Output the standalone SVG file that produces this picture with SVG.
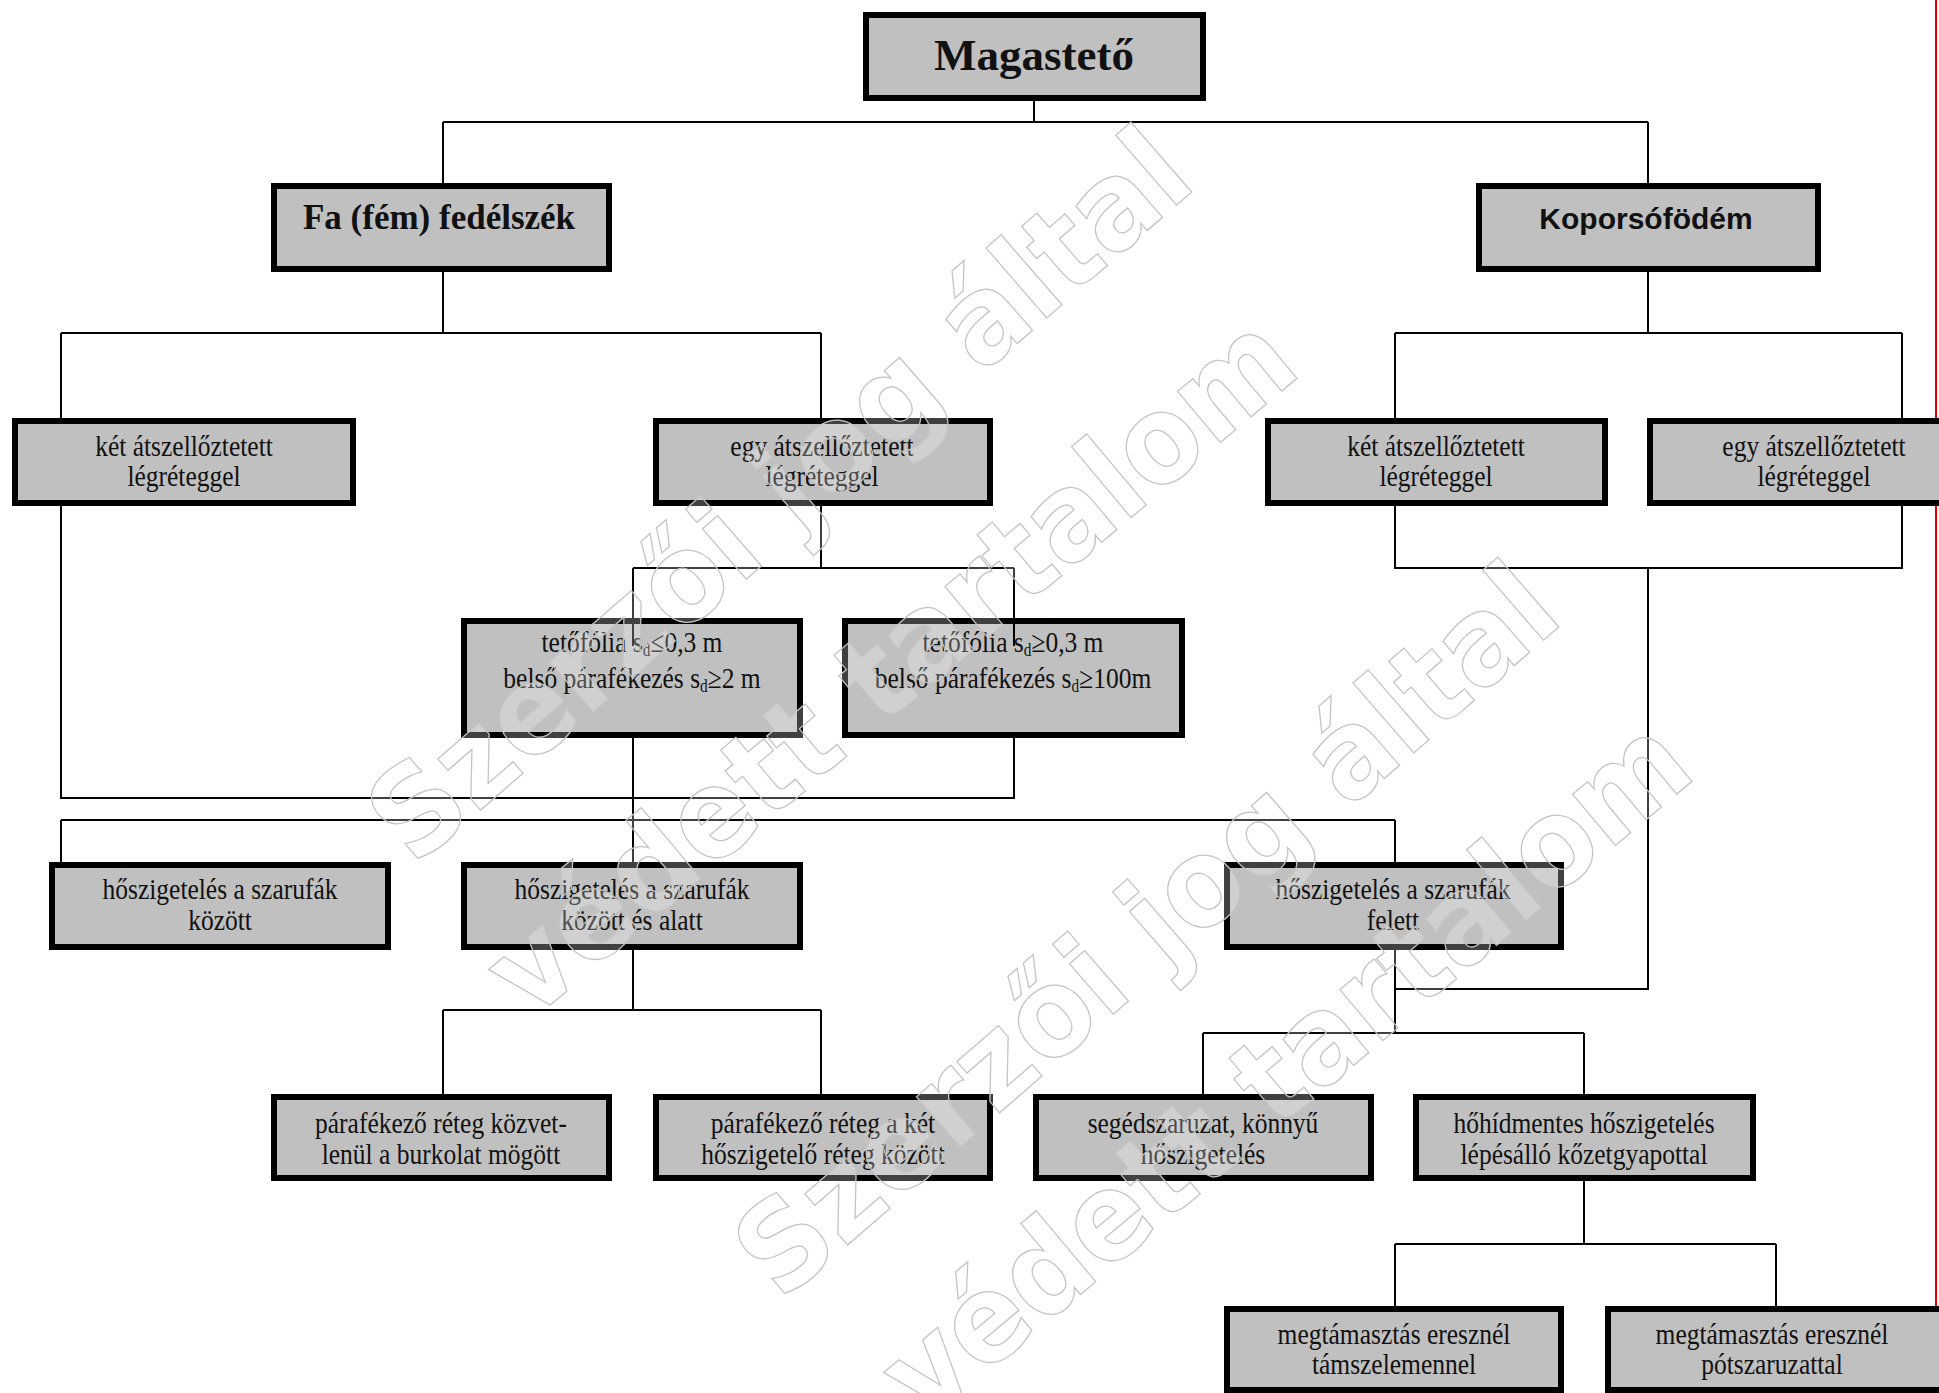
<svg xmlns="http://www.w3.org/2000/svg" width="1939" height="1393" viewBox="0 0 1939 1393">
<style>
.box{fill:#c0c0c0;stroke:#000;stroke-width:6}
.ln{stroke:#000;stroke-width:2;fill:none}
.t{font-family:"Liberation Serif",serif;font-size:30px;text-anchor:middle;fill:#111}
.wm{font-family:"DejaVu Sans",sans-serif;font-weight:bold;font-size:122px;text-anchor:middle;fill:#fff;fill-opacity:0.25;stroke:#c4c4c4;stroke-width:1.3}
</style>
<rect width="1939" height="1393" fill="#fff"/>
<line x1="1936" y1="0" x2="1936" y2="1393" stroke="#e00000" stroke-width="2"/>
<g id="connectors" class="ln">
<path d="M1034 101V122M443 122H1648M443 122V183M1648 122V183"/>
<path d="M443 272V333M61 333H821M61 333V418M821 333V418"/>
<path d="M1648 272V333M1395 333H1902M1395 333V418M1902 333V418"/>
<path d="M61 506V798H1014V738"/>
<path d="M821 506V568M633 568H1014"/>
<path d="M1395 506V568H1902V506M1648 568V989H1395"/>
<path d="M633 738V862M61 820H1395M61 820V862M1395 820V862"/>
<path d="M633 950V1010M443 1010H821M443 1010V1094M821 1010V1094"/>
<path d="M1395 950V1033M1203 1033H1584M1203 1033V1094M1584 1033V1094"/>
<path d="M1584 1181V1244M1395 1244H1776M1395 1244V1306M1776 1244V1306"/>
</g>
<g id="n-magasteto"><rect class="box" x="866" y="15" width="337" height="83"/><text x="1034" y="70" style="font-family:'Liberation Serif',serif;font-weight:bold;font-size:45px;text-anchor:middle;fill:#111">Magastető</text></g>
<g id="n-fa"><rect class="box" x="274" y="186" width="335" height="83"/><text x="439" y="229" style="font-family:'Liberation Serif',serif;font-weight:bold;font-size:35px;text-anchor:middle;fill:#111">Fa (fém) fedélszék</text></g>
<g id="n-koporso"><rect class="box" x="1479" y="186" width="339" height="83"/><text x="1646" y="229" style="font-family:'Liberation Sans',sans-serif;font-weight:bold;font-size:30px;text-anchor:middle;fill:#111">Koporsófödém</text></g>
<g id="n-ket-l"><rect class="box" x="15" y="421" width="338" height="82"/><g transform="translate(184,0) scale(0.85,1)"><text class="t" x="0" y="456">két átszellőztetett</text><text class="t" x="0" y="486">légréteggel</text></g></g>
<g id="n-egy-c"><rect class="box" x="656" y="421" width="334" height="82"/><g transform="translate(822,0) scale(0.85,1)"><text class="t" x="0" y="456">egy átszellőztetett</text><text class="t" x="0" y="486">légréteggel</text></g></g>
<g id="n-ket-r"><rect class="box" x="1268" y="421" width="337" height="82"/><g transform="translate(1436,0) scale(0.85,1)"><text class="t" x="0" y="456">két átszellőztetett</text><text class="t" x="0" y="486">légréteggel</text></g></g>
<g id="n-egy-r"><rect class="box" x="1650" y="421" width="334" height="82"/><g transform="translate(1814,0) scale(0.85,1)"><text class="t" x="0" y="456">egy átszellőztetett</text><text class="t" x="0" y="486">légréteggel</text></g></g>
<g id="n-teto1"><rect class="box" x="464" y="621" width="336" height="114"/><g transform="translate(632,0) scale(0.85,1)"><text class="t" x="0" y="652">tetőfólia s<tspan font-size="18" dy="4">d</tspan><tspan dy="-4">≤0,3 m</tspan></text><text class="t" x="0" y="688">belső párafékezés  s<tspan font-size="18" dy="4">d</tspan><tspan dy="-4">≥2 m</tspan></text></g></g>
<g id="n-teto2"><rect class="box" x="845" y="621" width="337" height="114"/><g transform="translate(1013,0) scale(0.85,1)"><text class="t" x="0" y="652">tetőfólia s<tspan font-size="18" dy="4">d</tspan><tspan dy="-4">≥0,3 m</tspan></text><text class="t" x="0" y="688">belső párafékezés  s<tspan font-size="18" dy="4">d</tspan><tspan dy="-4">≥100m</tspan></text></g></g>
<path class="ln" d="M633 568V646M1014 568V646"/>
<g id="n-hosz1"><rect class="box" x="52" y="865" width="336" height="82"/><g transform="translate(220,0) scale(0.85,1)"><text class="t" x="0" y="899">hőszigetelés  a szarufák</text><text class="t" x="0" y="930">között</text></g></g>
<g id="n-hosz2"><rect class="box" x="464" y="865" width="336" height="82"/><g transform="translate(632,0) scale(0.85,1)"><text class="t" x="0" y="899">hőszigetelés  a szarufák</text><text class="t" x="0" y="930">között és alatt</text></g></g>
<g id="n-felett"><rect class="box" x="1227" y="865" width="334" height="82"/><g transform="translate(1393,0) scale(0.85,1)"><text class="t" x="0" y="899">hőszigetelés  a szarufák</text><text class="t" x="0" y="930">felett</text></g></g>
<g id="n-para1"><rect class="box" x="274" y="1097" width="335" height="81"/><g transform="translate(441,0) scale(0.85,1)"><text class="t" x="0" y="1133">párafékező  réteg közvet-</text><text class="t" x="0" y="1164">lenül a burkolat mögött</text></g></g>
<g id="n-para2"><rect class="box" x="656" y="1097" width="334" height="81"/><g transform="translate(823,0) scale(0.85,1)"><text class="t" x="0" y="1133">párafékező  réteg a két</text><text class="t" x="0" y="1164">hőszigetelő  réteg között</text></g></g>
<g id="n-seged"><rect class="box" x="1036" y="1097" width="335" height="81"/><g transform="translate(1203,0) scale(0.85,1)"><text class="t" x="0" y="1133">segédszaruzat, könnyű</text><text class="t" x="0" y="1164">hőszigetelés</text></g></g>
<g id="n-hohid"><rect class="box" x="1416" y="1097" width="337" height="81"/><g transform="translate(1584,0) scale(0.85,1)"><text class="t" x="0" y="1133">hőhídmentes hőszigetelés</text><text class="t" x="0" y="1164">lépésálló  kőzetgyapottal</text></g></g>
<g id="n-megt1"><rect class="box" x="1227" y="1309" width="334" height="81"/><g transform="translate(1394,0) scale(0.85,1)"><text class="t" x="0" y="1344">megtámasztás  eresznél</text><text class="t" x="0" y="1374">támszelemennel</text></g></g>
<g id="n-megt2"><rect class="box" x="1608" y="1309" width="376" height="81"/><g transform="translate(1772,0) scale(0.85,1)"><text class="t" x="0" y="1344">megtámasztás   eresznél</text><text class="t" x="0" y="1374">pótszaruzattal</text></g></g>
<g id="watermark">
<text class="wm" transform="translate(779,495) rotate(-41)" x="0" y="42" textLength="1040" lengthAdjust="spacingAndGlyphs">Szerzői jog által</text>
<text class="wm" transform="translate(890,665) rotate(-40)" x="0" y="42" textLength="1010" lengthAdjust="spacingAndGlyphs">védett tartalom</text>
<text class="wm" transform="translate(1146,930) rotate(-41)" x="0" y="42" textLength="1040" lengthAdjust="spacingAndGlyphs">Szerzői jog által</text>
<text class="wm" transform="translate(1285,1068) rotate(-40)" x="0" y="42" textLength="1010" lengthAdjust="spacingAndGlyphs">védett tartalom</text>
</g>
</svg>
